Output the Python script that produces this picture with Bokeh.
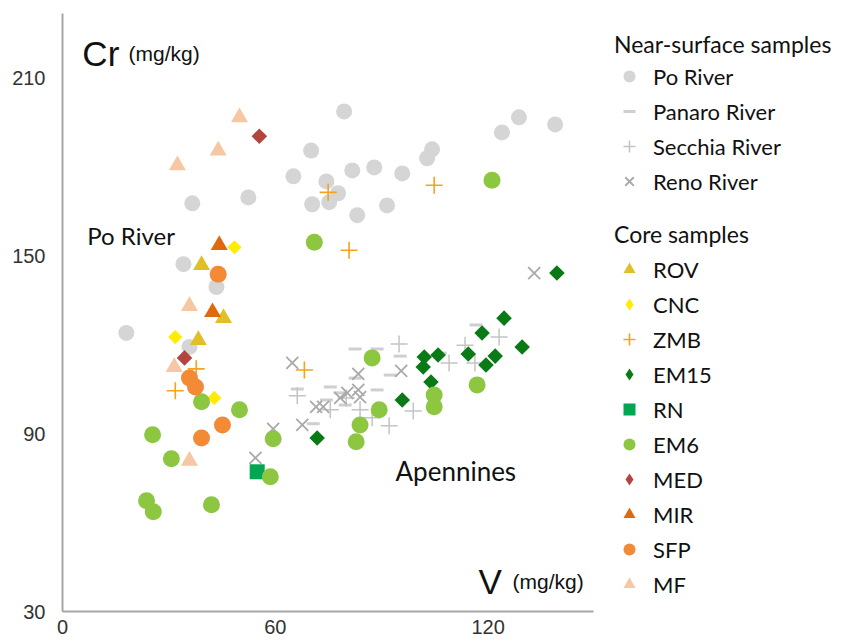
import math
from bokeh.plotting import figure
from bokeh.models import Legend, LegendItem, Label, FixedTicker, Range1d
from bokeh.embed import file_html
from bokeh.resources import INLINE

# ---------------- data (V mg/kg, Cr mg/kg) ----------------
# Near-surface samples
po_v = [18.0, 34.1, 43.4, 35.8, 36.6, 52.4, 65.1, 70.1, 79.4, 74.4, 81.7, 87.9,
        95.8, 77.7, 70.4, 75.2, 83.1, 91.5, 104.2, 102.8, 123.9, 128.7, 138.9]
po_cr = [123.9, 147.1, 139.4, 119.2, 167.6, 169.6, 176.7, 185.4, 198.6, 175.0, 178.7, 179.7,
         177.7, 171.0, 167.3, 168.0, 163.6, 166.9, 185.8, 182.8, 191.5, 196.6, 194.2]

panaro_v = [66.2, 70.7, 75.5, 82.5, 88.7, 95.2, 116.6, 92.4, 88.7, 78.3, 82.5, 74.4, 106.5, 79.7]
panaro_cr = [105.0, 93.3, 105.7, 118.5, 118.5, 116.1, 126.6, 109.7, 104.7, 103.7, 108.7, 101.3, 117.1, 99.6]

secchia_v = [66.2, 94.9, 116.3, 123.1, 109.0, 98.9, 92.1, 87.3, 83.9, 75.5, 80.0, 113.5]
secchia_cr = [102.7, 120.2, 113.8, 122.5, 113.8, 97.6, 92.6, 95.3, 98.0, 98.0, 102.0, 119.8]

reno_v = [64.8, 67.6, 59.4, 54.4, 133.0, 71.5, 73.5, 78.3, 83.4, 83.4, 95.5, 80.3, 83.9]
reno_cr = [113.8, 92.9, 91.6, 81.8, 144.1, 99.0, 99.0, 102.0, 110.1, 104.7, 111.1, 103.7, 102.3]

# Core samples
rov_v = [39.2, 45.4, 38.3]
rov_cr = [146.8, 128.9, 121.5]

cnc_v = [48.5, 31.8, 42.8]
cnc_cr = [152.8, 122.5, 102.0]

zmb_v = [74.9, 104.8, 80.8, 37.7, 31.8, 68.2]
zmb_cr = [171.3, 173.7, 151.8, 111.8, 104.4, 111.4]

em15_v = [139.4, 124.5, 118.3, 129.6, 114.4, 122.0, 119.4, 105.9, 102.0, 101.7, 103.9, 95.8, 71.8]
em15_cr = [144.1, 128.9, 123.9, 119.2, 116.8, 116.1, 113.1, 116.5, 115.8, 112.4, 107.4, 101.3, 88.5]

rn_v = [54.9]
rn_cr = [77.1]

em6_v = [121.1, 71.0, 39.2, 49.9, 25.4, 59.4, 30.7, 58.6, 23.7, 25.6, 42.0,
         87.3, 89.3, 83.9, 82.8, 104.8, 104.8, 116.9]
em6_cr = [175.4, 154.5, 100.7, 98.0, 89.6, 88.2, 81.5, 75.4, 67.3, 63.6, 66.0,
          115.5, 98.0, 92.9, 87.2, 103.0, 99.0, 106.4]

med_v = [55.5, 34.4]
med_cr = [190.2, 115.5]

mir_v = [44.2, 42.3]
mir_cr = [153.5, 130.9]

sfp_v = [43.9, 35.8, 37.5, 45.1, 39.2]
sfp_cr = [143.7, 108.7, 105.7, 92.9, 88.5]

mf_v = [49.9, 43.9, 32.4, 35.8, 31.5, 35.8]
mf_cr = [196.6, 185.4, 180.4, 133.0, 112.4, 80.8]

x_ticks = [0, 60, 120]
y_ticks = [30, 90, 150, 210]

# ---------------- figure ----------------
# frame spans to the right edge so the legends sit inside it; the x axis is bounded to 0-150
p = figure(frame_width=787, frame_height=598,
           min_border_left=62, min_border_right=0, min_border_top=13, min_border_bottom=31,
           x_range=Range1d(0, 221.9), y_range=Range1d(30, 231.6),
           output_backend="svg", toolbar_location=None)
p.outline_line_color = None
p.grid.visible = False
p.background_fill_color = "white"
p.border_fill_color = "white"

for ax in (p.xaxis[0], p.yaxis[0]):
    ax.axis_line_color = "#a6a6a6"
    ax.axis_line_width = 2
    ax.major_tick_out = 0
    ax.major_tick_in = 0
    ax.minor_tick_out = 0
    ax.minor_tick_in = 0
    ax.major_label_text_font = "Liberation Sans"
    ax.major_label_text_font_size = "20px"
    ax.major_label_text_color = "#333333"
p.xaxis.ticker = FixedTicker(ticks=x_ticks)
p.yaxis.ticker = FixedTicker(ticks=y_ticks)
p.xaxis.bounds = (0, 149.8)
p.xaxis.major_label_standoff = 8
p.yaxis.major_label_standoff = 17

D = math.pi / 4

r_po = p.scatter(po_v, po_cr, marker="circle", size=16, fill_color="#d5d5d5", line_color=None)
r_pa = p.scatter(panaro_v, panaro_cr, marker="dash", size=13, line_color="#cfcfcf", line_width=3)
r_se = p.scatter(secchia_v, secchia_cr, marker="cross", size=17, line_color="#c4c4c4", line_width=1.5)
r_re = p.scatter(reno_v, reno_cr, marker="x", size=17, line_color="#a9a9a9", line_width=1.8)

r_rov = p.scatter(rov_v, rov_cr, marker="triangle", size=17, fill_color="#e0bf27", line_color=None)
r_cnc = p.scatter(cnc_v, cnc_cr, marker="square", angle=D, size=10, fill_color="#ffec00", line_color=None)
r_zmb = p.scatter(zmb_v, zmb_cr, marker="cross", size=17, line_color="#f5a21c", line_width=1.6)
r_em15 = p.scatter(em15_v, em15_cr, marker="square", angle=D, size=11, fill_color="#0a7a17", line_color=None)
r_rn = p.scatter(rn_v, rn_cr, marker="square", size=15, fill_color="#00a651", line_color=None)
r_em6 = p.scatter(em6_v, em6_cr, marker="circle", size=17, fill_color="#8dc742", line_color=None)
r_med = p.scatter(med_v, med_cr, marker="square", angle=D, size=11, fill_color="#b4453e", line_color=None)
r_mir = p.scatter(mir_v, mir_cr, marker="triangle", size=17, fill_color="#e0680f", line_color=None)
r_sfp = p.scatter(sfp_v, sfp_cr, marker="circle", size=17, fill_color="#f28a36", line_color=None)
r_mf = p.scatter(mf_v, mf_cr, marker="triangle", size=17, fill_color="#f7c6a3", line_color=None)

# legend swatches for the diamond series (legend glyphs ignore marker angle):
# same data, zero size on the plot, legend draws them at its own size
k_cnc = p.scatter(cnc_v, cnc_cr, marker="diamond", size=0, fill_color="#ffec00", line_color=None)
k_em15 = p.scatter(em15_v, em15_cr, marker="diamond", size=0, fill_color="#0a7a17", line_color=None)
k_med = p.scatter(med_v, med_cr, marker="diamond", size=0, fill_color="#b4453e", line_color=None)

# ---------------- text annotations ----------------
big = "Liberation Sans"
p.add_layout(Label(x=5.6, y=218.1, text="Cr", text_font=big, text_font_size="35px",
                   text_color="#111111", text_baseline="alphabetic"))
p.add_layout(Label(x=18.6, y=218.1, text="(mg/kg)", text_font=big, text_font_size="21px",
                   text_color="#111111", text_baseline="alphabetic"))
p.add_layout(Label(x=117.3, y=40.0, text="V", text_font=big, text_font_size="35px",
                   text_color="#111111", text_baseline="alphabetic"))
p.add_layout(Label(x=126.9, y=40.0, text="(mg/kg)", text_font=big, text_font_size="21px",
                   text_color="#111111", text_baseline="alphabetic"))
p.add_layout(Label(x=7.0, y=156.6, text="Po River", text_font="Lato", text_font_size="24px",
                   text_color="#111111", text_baseline="alphabetic"))
p.add_layout(Label(x=93.9, y=77.5, text="Apennines", text_font="Lato", text_font_size="26px",
                   text_color="#111111", text_baseline="alphabetic"))

# ---------------- legends ----------------
def make_legend(title, items, loc, standoff):
    lg = Legend(items=items, location=loc, title=title,
                title_text_font="Lato", title_text_font_size="23px", title_text_font_style="normal",
                title_text_color="#111111", title_standoff=standoff,
                label_text_font="Lato", label_text_font_size="22px", label_text_color="#111111",
                glyph_width=30, glyph_height=30, spacing=5, padding=4, margin=0,
                label_standoff=9, background_fill_alpha=0, border_line_color=None)
    return lg

near_items = [LegendItem(label="Po River", renderers=[r_po]),
              LegendItem(label="Panaro River", renderers=[r_pa]),
              LegendItem(label="Secchia River", renderers=[r_se]),
              LegendItem(label="Reno River", renderers=[r_re])]
core_items = [LegendItem(label="ROV", renderers=[r_rov]),
              LegendItem(label="CNC", renderers=[k_cnc]),
              LegendItem(label="ZMB", renderers=[r_zmb]),
              LegendItem(label="EM15", renderers=[k_em15]),
              LegendItem(label="RN", renderers=[r_rn]),
              LegendItem(label="EM6", renderers=[r_em6]),
              LegendItem(label="MED", renderers=[k_med]),
              LegendItem(label="MIR", renderers=[r_mir]),
              LegendItem(label="SFP", renderers=[r_sfp]),
              LegendItem(label="MF", renderers=[r_mf])]

leg1 = make_legend("Near-surface samples", near_items, (552, 415), 3)
leg2 = make_legend("Core samples", core_items, (552, 12), 6)
p.add_layout(leg1, "center")
p.add_layout(leg2, "center")

open("out.html", "w").write(file_html(p, INLINE))
